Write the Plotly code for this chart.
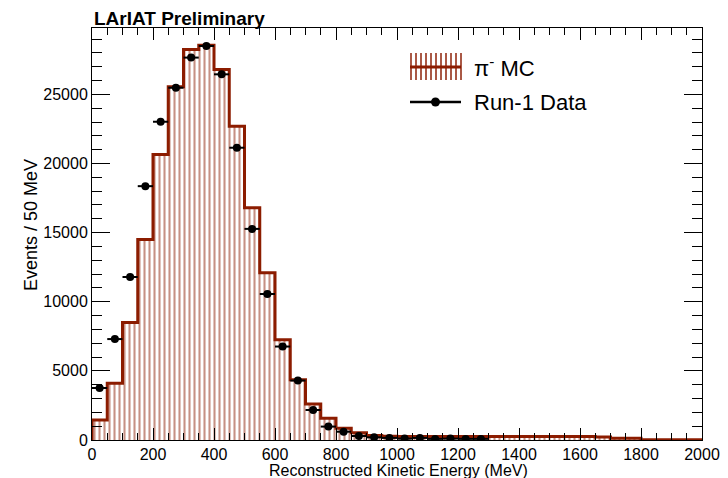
import plotly.graph_objects as go

# MC histogram (50 MeV bins, 0-2000 MeV)
bin_edges = list(range(0, 2001, 50))
mc_counts = [1450, 4100, 8500, 14500, 20650, 25550, 28250, 28550, 26800, 22700,
             16800, 12100, 7250, 4350, 2600, 1570, 850, 530, 320, 270,
             250, 250, 250, 250, 250, 250, 250, 250, 250, 250,
             250, 250, 250, 220, 130, 130, 20, 20, 20, 20]

# Data points (bin centres)
data_x = [25, 75, 125, 175, 225, 275, 325, 375, 425, 475,
          525, 575, 625, 675, 725, 775, 825, 875, 925, 975,
          1025, 1075, 1125, 1175, 1225, 1275]
data_y = [3760, 7300, 11790, 18360, 23020, 25480, 27660, 28500, 26450, 21140,
          15270, 10560, 6760, 4300, 2170, 970, 600, 290, 190, 150,
          100, 150, 80, 100, 80, 80]

x_ticks = [0, 200, 400, 600, 800, 1000, 1200, 1400, 1600, 1800, 2000]
y_ticks = [0, 5000, 10000, 15000, 20000, 25000]

legend_labels = ["π<sup>-</sup> MC", "Run-1 Data"]

MC_COLOR = "#8c1c00"
HATCH_COLOR = "#8e2208"
FONT = "Liberation Sans, Arial, sans-serif"

# plot-area geometry in pixels (used only for legend decoration placement)
L, R, T, B = 92, 702, 28, 440
W, H = R - L, B - T


def px(xp):
    return (xp - L) / W


def py(yp):
    return (B - yp) / H


centers = [(a + b) / 2 for a, b in zip(bin_edges[:-1], bin_edges[1:])]

fig = go.Figure()

fig.add_trace(go.Bar(
    x=centers, y=mc_counts, width=50,
    marker=dict(color="white", line=dict(width=0),
                pattern=dict(shape="|", fgcolor=HATCH_COLOR, bgcolor="white",
                             size=5, solidity=0.42)),
    name=legend_labels[0], showlegend=False,
))

step_x = [0] + bin_edges[:-1] + [bin_edges[-1]]
step_y = [0] + mc_counts + [mc_counts[-1]]
fig.add_trace(go.Scatter(
    x=step_x, y=step_y, mode="lines", line=dict(color=MC_COLOR, width=3, shape="hv"),
    showlegend=False, hoverinfo="skip",
))

fig.add_trace(go.Scatter(
    x=data_x, y=data_y, mode="markers",
    marker=dict(color="black", size=8),
    error_x=dict(type="constant", value=25, color="black", thickness=2, width=0),
    error_y=dict(type="data", array=[v ** 0.5 for v in data_y], color="black", thickness=2, width=0),
    name=legend_labels[1], showlegend=False,
))

# --- custom ROOT-style legend ---
shapes = []
bx0, bx1, by0, by1 = 410, 461, 53, 80
for xx in range(411, 462, 5):
    shapes.append(dict(type="line", xref="paper", yref="paper",
                       x0=px(xx), x1=px(xx), y0=py(by0), y1=py(by1),
                       line=dict(color=HATCH_COLOR, width=1.5)))
shapes.append(dict(type="line", xref="paper", yref="paper",
                   x0=px(bx0), x1=px(bx1), y0=py(67), y1=py(67),
                   line=dict(color=MC_COLOR, width=3)))
shapes.append(dict(type="line", xref="paper", yref="paper",
                   x0=px(bx0), x1=px(bx1), y0=py(102), y1=py(102),
                   line=dict(color="black", width=2.5)))
shapes.append(dict(type="circle", xref="paper", yref="paper",
                   xsizemode="pixel", ysizemode="pixel",
                   xanchor=px(435.5), yanchor=py(102),
                   x0=-4.5, x1=4.5, y0=-4.5, y1=4.5,
                   fillcolor="black", line=dict(color="black", width=0)))

annotations = [
    dict(text="<b>LArIAT Preliminary</b>", x=0, y=1, xref="paper", yref="paper",
         xanchor="left", yanchor="bottom", showarrow=False,
         font=dict(size=19, family=FONT), yshift=-3),
    dict(text=legend_labels[0], x=px(472), y=py(67), xref="paper", yref="paper",
         xanchor="left", yanchor="middle", showarrow=False, font=dict(size=22, family=FONT)),
    dict(text=legend_labels[1], x=px(472), y=py(102), xref="paper", yref="paper",
         xanchor="left", yanchor="middle", showarrow=False, font=dict(size=22, family=FONT)),
    dict(text="Events / 50 MeV", x=px(31), y=py(225), xref="paper", yref="paper",
         xanchor="center", yanchor="middle", textangle=-90, showarrow=False,
         font=dict(size=18, family=FONT)),
    dict(text="Reconstructed Kinetic Energy (MeV)", x=px(398), y=py(470), xref="paper", yref="paper",
         xanchor="center", yanchor="middle", showarrow=False,
         font=dict(size=16, family=FONT)),
]

fig.update_layout(
    width=728, height=478,
    margin=dict(l=L, r=728 - R, t=T, b=478 - B),
    paper_bgcolor="white", plot_bgcolor="white",
    font=dict(family=FONT, color="black", size=16),
    bargap=0,
    showlegend=False,
    shapes=shapes,
    annotations=annotations,
)

fig.update_xaxes(
    range=[0, 2000], tickvals=x_ticks, ticktext=[str(v) for v in x_ticks],
    ticks="inside", ticklen=12, tickwidth=1, tickcolor="black",
    showline=True, linecolor="black", linewidth=1, mirror="allticks",
    showgrid=False, zeroline=False, automargin=False,
    minor=dict(ticks="inside", ticklen=7, dtick=50, tickcolor="black", showgrid=False),
    tickfont=dict(size=16),
)
fig.update_yaxes(
    range=[0, 29800], tickvals=y_ticks, ticktext=[str(v) for v in y_ticks],
    ticks="inside", ticklen=18, tickwidth=1, tickcolor="black",
    showline=True, linecolor="black", linewidth=1, mirror="allticks",
    showgrid=False, zeroline=False, automargin=False,
    minor=dict(ticks="inside", ticklen=10, dtick=1000, tickcolor="black", showgrid=False),
    tickfont=dict(size=16),
)

fig.write_html("out.html")
